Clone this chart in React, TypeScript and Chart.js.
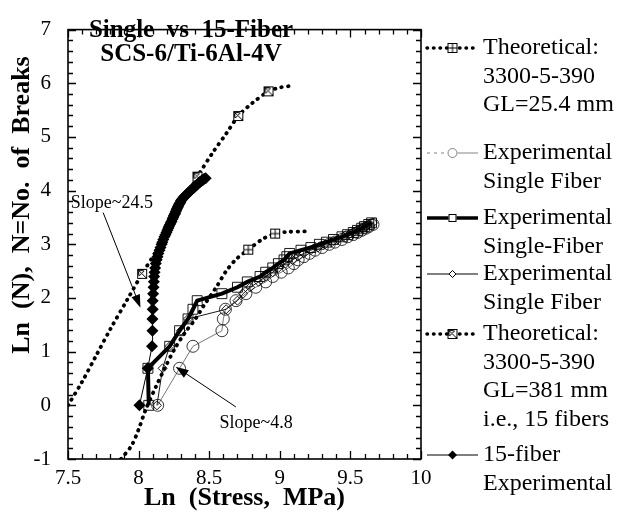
import React, { useEffect, useRef } from 'react';
import { Chart, registerables } from 'chart.js';

Chart.register(...registerables);

// ---------- data ----------
const xTickValues = [7.5, 8, 8.5, 9, 9.5, 10];
const yTickValues = [-1, 0, 1, 2, 3, 4, 5, 6, 7];

const titleLines = ['Single  vs  15-Fiber', 'SCS-6/Ti-6Al-4V'];
const xTitle = 'Ln  (Stress,  MPa)';
const yTitle = 'Ln  (N),  N=No.  of  Breaks';

// Theoretical 3300-5-390, GL=25.4 mm
const theo25X = [7.875, 7.95, 8.0, 8.05, 8.125, 8.185, 8.255, 8.33, 8.40, 8.46, 8.55, 8.62, 8.69, 8.777, 8.88, 8.967, 9.05, 9.18];
const theo25Y = [-1.0, -0.75, -0.45, -0.08, 0.36, 0.69, 1.05, 1.36, 1.6, 1.85, 2.2, 2.5, 2.72, 2.9, 3.1, 3.2, 3.23, 3.24];
const theo25MarkerIdx = [13, 15];

// Theoretical 3300-5-390, GL=381 mm (15 fibers)
const theo381X = [7.5, 7.6, 7.7, 7.8, 7.92, 8.025, 8.125, 8.2, 8.3, 8.417, 8.528, 8.62, 8.706, 8.8, 8.92, 9.0, 9.074];
const theo381Y = [0, 0.44, 0.93, 1.42, 1.97, 2.45, 2.87, 3.2, 3.7, 4.26, 4.72, 5.06, 5.39, 5.62, 5.85, 5.92, 5.95];
const theo381MarkerIdx = [5, 9, 12, 14];

// Experimental single fiber (circles)
const circleX = [8.135, 8.29, 8.385, 8.59, 8.6, 8.615, 8.69, 8.76, 8.83, 8.9, 8.95, 9.01, 9.06, 9.1, 9.13, 9.17, 9.21, 9.25, 9.3, 9.35, 9.39, 9.44, 9.48, 9.52, 9.55, 9.58, 9.61, 9.63, 9.66];
const circleY = [0, 0.69, 1.1, 1.39, 1.61, 1.79, 1.95, 2.08, 2.2, 2.3, 2.4, 2.48, 2.56, 2.64, 2.71, 2.77, 2.83, 2.89, 2.94, 3.0, 3.04, 3.09, 3.14, 3.18, 3.22, 3.26, 3.3, 3.33, 3.37];

// Experimental single-fiber (squares, thick line)
const squareX = [8.072, 8.066, 8.22, 8.29, 8.35, 8.385, 8.415, 8.59, 8.7, 8.77, 8.86, 8.9, 8.95, 8.99, 9.03, 9.05, 9.07, 9.15, 9.22, 9.28, 9.33, 9.38, 9.44, 9.48, 9.52, 9.55, 9.58, 9.6, 9.63, 9.65];
const squareY = [0, 0.69, 1.1, 1.39, 1.61, 1.79, 1.95, 2.08, 2.2, 2.3, 2.4, 2.48, 2.56, 2.64, 2.71, 2.77, 2.83, 2.89, 2.94, 3.0, 3.04, 3.09, 3.14, 3.18, 3.22, 3.26, 3.3, 3.33, 3.37, 3.4];

// Experimental single fiber (open diamonds)
const diamondX = [8.13, 8.17, 8.22, 8.3, 8.35, 8.62, 8.7, 8.74, 8.79, 8.85, 8.9, 8.95, 8.99, 9.04, 9.09, 9.13, 9.17, 9.22, 9.27, 9.32, 9.37, 9.41, 9.45, 9.49, 9.52, 9.55, 9.58, 9.61, 9.63, 9.66];
const diamondY = [0, 0.69, 1.1, 1.39, 1.61, 1.79, 1.95, 2.08, 2.2, 2.3, 2.4, 2.48, 2.56, 2.64, 2.71, 2.77, 2.83, 2.89, 2.94, 3.0, 3.04, 3.09, 3.14, 3.18, 3.22, 3.26, 3.3, 3.33, 3.37, 3.4];

// 15-fiber experimental (filled diamonds)
const fiber15X = [8.006, 8.065, 8.095, 8.098, 8.098, 8.1, 8.1, 8.103, 8.106, 8.108, 8.11, 8.113, 8.117, 8.122, 8.128, 8.134, 8.14, 8.148, 8.155, 8.163, 8.168, 8.175, 8.183, 8.19, 8.197, 8.204, 8.21, 8.215, 8.222, 8.228, 8.233, 8.24, 8.245, 8.25, 8.255, 8.259, 8.263, 8.268, 8.272, 8.277, 8.28, 8.286, 8.29, 8.295, 8.3, 8.306, 8.312, 8.318, 8.325, 8.332, 8.34, 8.348, 8.356, 8.364, 8.372, 8.38, 8.385, 8.393, 8.4, 8.405, 8.413, 8.42, 8.426, 8.434, 8.44, 8.448, 8.455, 8.465, 8.475];
const fiber15Y = [0, 0.69, 1.1, 1.39, 1.61, 1.79, 1.95, 2.08, 2.2, 2.3, 2.4, 2.48, 2.56, 2.64, 2.71, 2.77, 2.83, 2.89, 2.94, 3.0, 3.04, 3.09, 3.14, 3.18, 3.22, 3.26, 3.3, 3.33, 3.37, 3.4, 3.43, 3.47, 3.5, 3.53, 3.56, 3.58, 3.61, 3.64, 3.66, 3.69, 3.71, 3.74, 3.76, 3.78, 3.81, 3.83, 3.85, 3.87, 3.89, 3.91, 3.93, 3.95, 3.97, 3.99, 4.01, 4.03, 4.04, 4.06, 4.08, 4.09, 4.11, 4.13, 4.14, 4.16, 4.17, 4.19, 4.2, 4.22, 4.23];

const legendLabels = [
  ['Theoretical:', '3300-5-390', 'GL=25.4 mm'],
  ['Experimental', 'Single Fiber'],
  ['Experimental', 'Single-Fiber'],
  ['Experimental', 'Single Fiber'],
  ['Theoretical:', '3300-5-390', 'GL=381 mm', 'i.e., 15 fibers'],
  ['15-fiber', 'Experimental'],
];

const slopeLabels = ['Slope~24.5', 'Slope~4.8'];

// ---------- styling / layout ----------
const SERIF = "'Liberation Serif', 'Times New Roman', serif";

function makeMarker(kind: 'grid' | 'arrow'): HTMLCanvasElement {
  const s = 12;
  const c = document.createElement('canvas');
  c.width = s;
  c.height = s;
  const g = c.getContext('2d')!;
  g.fillStyle = '#fff';
  g.fillRect(1, 1, s - 2, s - 2);
  g.strokeStyle = '#000';
  g.lineWidth = 1;
  g.strokeRect(1.5, 1.5, s - 3, s - 3);
  g.beginPath();
  if (kind === 'grid') {
    g.moveTo(s / 2, 1.5); g.lineTo(s / 2, s - 1.5);
    g.moveTo(1.5, s / 2); g.lineTo(s - 1.5, s / 2);
    g.stroke();
  } else {
    g.moveTo(1.5, 1.5); g.lineTo(s - 1.5, s - 1.5);
    g.stroke();
    g.beginPath();
    g.moveTo(2, 2); g.lineTo(8, 3); g.lineTo(3, 8); g.closePath();
    g.stroke();
  }
  return c;
}

const pts = (xs: number[], ys: number[]) => xs.map((x, i) => ({ x, y: ys[i] }));

function drawArrow(ctx: CanvasRenderingContext2D, x0: number, y0: number, x1: number, y1: number) {
  const ang = Math.atan2(y1 - y0, x1 - x0);
  const L = 13, W = 4.5;
  ctx.beginPath();
  ctx.moveTo(x0, y0);
  ctx.lineTo(x1 - Math.cos(ang) * L * 0.8, y1 - Math.sin(ang) * L * 0.8);
  ctx.lineWidth = 1;
  ctx.stroke();
  ctx.beginPath();
  ctx.moveTo(x1, y1);
  ctx.lineTo(x1 - Math.cos(ang) * L - Math.sin(ang) * W, y1 - Math.sin(ang) * L + Math.cos(ang) * W);
  ctx.lineTo(x1 - Math.cos(ang) * L + Math.sin(ang) * W, y1 - Math.sin(ang) * L - Math.cos(ang) * W);
  ctx.closePath();
  ctx.fill();
}

export default function App() {
  const ref = useRef<HTMLCanvasElement | null>(null);

  useEffect(() => {
    const canvas = ref.current;
    if (!canvas) return;
    const gridMarker = makeMarker('grid');
    const arrowMarker = makeMarker('arrow');

    const framePlugin = {
      id: 'framePlugin',
      afterDatasetsDraw(chart: any) {
        const { ctx, chartArea } = chart;
        const { left, right, top, bottom } = chartArea;
        const xs = chart.scales.x, ys = chart.scales.y;
        ctx.save();
        ctx.strokeStyle = '#000';
        ctx.lineWidth = 1.6;
        ctx.strokeRect(left, top, right - left, bottom - top);
        ctx.lineWidth = 1.3;
        ctx.beginPath();
        for (let i = 0; i <= 25; i++) {
          const px = Math.round(xs.getPixelForValue(7.5 + i * 0.1)) + 0.5;
          const len = i % 5 === 0 ? 8 : 5;
          ctx.moveTo(px, bottom); ctx.lineTo(px, bottom - len);
          ctx.moveTo(px, top); ctx.lineTo(px, top + len);
        }
        for (let i = 0; i <= 40; i++) {
          const py = Math.round(ys.getPixelForValue(-1 + i * 0.2)) + 0.5;
          const len = i % 5 === 0 ? 8 : 5;
          ctx.moveTo(left, py); ctx.lineTo(left + len, py);
          ctx.moveTo(right, py); ctx.lineTo(right - len, py);
        }
        ctx.stroke();

        // title
        ctx.fillStyle = '#000';
        ctx.font = `bold 25px ${SERIF}`;
        ctx.textAlign = 'center';
        ctx.textBaseline = 'middle';
        ctx.fillText(titleLines[0], 191, 31);
        ctx.fillText(titleLines[1], 191, 55);

        // slope annotations
        ctx.font = `18px ${SERIF}`;
        ctx.textAlign = 'left';
        ctx.fillText(slopeLabels[0], xs.getPixelForValue(7.52), ys.getPixelForValue(3.77));
        drawArrow(ctx, xs.getPixelForValue(7.749), ys.getPixelForValue(3.59), xs.getPixelForValue(8.013), ys.getPixelForValue(1.82));
        ctx.textAlign = 'center';
        ctx.fillText(slopeLabels[1], xs.getPixelForValue(8.832), ys.getPixelForValue(-0.335));
        drawArrow(ctx, xs.getPixelForValue(8.689), ys.getPixelForValue(-0.03), xs.getPixelForValue(8.262), ys.getPixelForValue(0.72));
        ctx.restore();
      },
      afterDraw(chart: any) {
        const { ctx, chartArea } = chart;
        ctx.save();
        // y axis title
        ctx.fillStyle = '#000';
        ctx.font = `bold 26px ${SERIF}`;
        ctx.textAlign = 'center';
        ctx.textBaseline = 'middle';
        ctx.translate(22, 205);
        ctx.rotate(-Math.PI / 2);
        ctx.fillText(yTitle, 0, 0);
        ctx.restore();

        // legend
        ctx.save();
        const x0 = chartArea.right + 6, x1 = chartArea.right + 57, xm = (x0 + x1) / 2;
        const tx = chartArea.right + 62;
        const lh = 28.5;
        const itemTops = [48, 153, 218, 274, 334, 455];
        ctx.font = `24px ${SERIF}`;
        ctx.fillStyle = '#000';
        ctx.textAlign = 'left';
        ctx.textBaseline = 'middle';
        legendLabels.forEach((lines, k) => {
          const y = itemTops[k];
          lines.forEach((t, j) => ctx.fillText(t, tx, y + j * lh));
          ctx.strokeStyle = '#000';
          ctx.fillStyle = '#000';
          if (k === 0 || k === 4) {
            ctx.save();
            ctx.lineWidth = 3.5;
            ctx.lineCap = 'round';
            ctx.setLineDash([0.5, 6]);
            ctx.beginPath(); ctx.moveTo(x0, y); ctx.lineTo(x1, y); ctx.stroke();
            ctx.restore();
            const m = k === 0 ? gridMarker : arrowMarker;
            ctx.drawImage(m, xm - m.width / 2, y - m.height / 2);
          } else if (k === 1) {
            ctx.save();
            ctx.strokeStyle = '#666';
            ctx.lineWidth = 0.8;
            ctx.setLineDash([3, 4]);
            ctx.beginPath(); ctx.moveTo(x0, y); ctx.lineTo(xm - 5, y); ctx.stroke();
            ctx.setLineDash([]);
            ctx.beginPath(); ctx.moveTo(xm + 5, y); ctx.lineTo(x1, y); ctx.stroke();
            ctx.beginPath(); ctx.arc(xm, y, 4.5, 0, Math.PI * 2); ctx.stroke();
            ctx.restore();
          } else if (k === 2) {
            ctx.save();
            ctx.lineWidth = 3.5;
            ctx.beginPath(); ctx.moveTo(x0, y); ctx.lineTo(x1, y); ctx.stroke();
            ctx.fillStyle = '#fff';
            ctx.lineWidth = 1;
            ctx.fillRect(xm - 4, y - 4, 8, 8);
            ctx.strokeRect(xm - 3.5, y - 3.5, 7, 7);
            ctx.restore();
          } else if (k === 3) {
            ctx.save();
            ctx.lineWidth = 1;
            ctx.beginPath(); ctx.moveTo(x0, y); ctx.lineTo(x1, y); ctx.stroke();
            ctx.fillStyle = '#fff';
            ctx.beginPath();
            ctx.moveTo(xm, y - 3.5); ctx.lineTo(xm + 3.5, y); ctx.lineTo(xm, y + 3.5); ctx.lineTo(xm - 3.5, y); ctx.closePath();
            ctx.fill(); ctx.stroke();
            ctx.restore();
          } else {
            ctx.save();
            ctx.lineWidth = 1;
            ctx.beginPath(); ctx.moveTo(x0, y); ctx.lineTo(x1, y); ctx.stroke();
            ctx.beginPath();
            ctx.moveTo(xm, y - 4.5); ctx.lineTo(xm + 4.5, y); ctx.lineTo(xm, y + 4.5); ctx.lineTo(xm - 4.5, y); ctx.closePath();
            ctx.fill();
            ctx.restore();
          }
          ctx.fillStyle = '#000';
        });
        ctx.restore();
      },
    };

    const dotted = {
      borderColor: '#000',
      borderWidth: 3.8,
      borderDash: [0.5, 6.2],
      borderCapStyle: 'round' as const,
      fill: false,
      showLine: true,
      tension: 0.3,
    };

    const chart = new Chart(canvas, {
      type: 'scatter',
      data: {
        datasets: [
          {
            label: legendLabels[5].join(' '),
            data: pts(fiber15X, fiber15Y),
            showLine: true,
            borderColor: '#000',
            borderWidth: 1,
            pointStyle: 'rectRot',
            pointRadius: 6,
            pointBackgroundColor: '#000',
            pointBorderColor: '#000',
            pointBorderWidth: 0,
            order: 0,
          },
          {
            label: legendLabels[4].join(' '),
            data: pts(theo381X, theo381Y),
            ...dotted,
            pointStyle: arrowMarker,
            pointRadius: (c: any) => (theo381MarkerIdx.includes(c.dataIndex) ? 5 : 0),
            order: 2,
          },
          {
            label: legendLabels[2].join(' '),
            data: pts(squareX, squareY),
            showLine: true,
            borderColor: '#000',
            borderWidth: 4,
            pointStyle: 'rect',
            pointRadius: 7,
            pointBackgroundColor: 'rgba(255,255,255,0)',
            pointBorderColor: '#000',
            pointBorderWidth: 0.9,
            order: 3,
          },
          {
            label: legendLabels[3].join(' '),
            data: pts(diamondX, diamondY),
            showLine: true,
            borderColor: '#000',
            borderWidth: 0.9,
            pointStyle: 'rectRot',
            pointRadius: 4.5,
            pointBackgroundColor: 'rgba(255,255,255,0)',
            pointBorderColor: '#000',
            pointBorderWidth: 0.9,
            order: 4,
          },
          {
            label: legendLabels[1].join(' '),
            data: pts(circleX, circleY),
            showLine: true,
            borderColor: '#555',
            borderWidth: 0.8,
            pointStyle: 'circle',
            pointRadius: 6,
            pointBackgroundColor: 'rgba(255,255,255,0)',
            pointBorderColor: '#222',
            pointBorderWidth: 0.9,
            order: 5,
          },
          {
            label: legendLabels[0].join(' '),
            data: pts(theo25X, theo25Y),
            ...dotted,
            pointStyle: gridMarker,
            pointRadius: (c: any) => (theo25MarkerIdx.includes(c.dataIndex) ? 5 : 0),
            order: 1,
          },
        ],
      },
      options: {
        responsive: false,
        devicePixelRatio: 1,
        animation: false,
        layout: { padding: { left: 0, right: 205, top: 13, bottom: 0 } },
        plugins: { legend: { display: false }, tooltip: { enabled: false } },
        scales: {
          x: {
            type: 'linear',
            min: 7.5,
            max: 10,
            afterBuildTicks: (s: any) => { s.ticks = xTickValues.map((v) => ({ value: v })); },
            afterFit: (s: any) => { s.height = 61; },
            ticks: {
              color: '#000',
              font: { family: SERIF, size: 21 },
              padding: 7,
              maxRotation: 0,
              autoSkip: false,
              callback: (v: any) => String(v),
            },
            grid: { display: false, drawTicks: false },
            border: { display: false },
            title: {
              display: true,
              text: xTitle,
              color: '#000',
              font: { family: SERIF, size: 26, weight: 'bold' },
              padding: { top: 0, bottom: 6 },
            },
          },
          y: {
            type: 'linear',
            min: -1,
            max: 7,
            afterBuildTicks: (s: any) => { s.ticks = yTickValues.map((v) => ({ value: v })); },
            afterFit: (s: any) => { s.width = 68; },
            ticks: {
              color: '#000',
              font: { family: SERIF, size: 21 },
              padding: 17,
              autoSkip: false,
              callback: (v: any) => String(v),
            },
            grid: { display: false, drawTicks: false },
            border: { display: false },
          },
        },
      } as any,
      plugins: [framePlugin],
    });
    return () => chart.destroy();
  }, []);

  return (
    <div style={{ position: 'absolute', left: 0, top: 0, width: 626, height: 520, background: '#fff' }}>
      <canvas ref={ref} width={626} height={520} style={{ display: 'block' }} />
    </div>
  );
}
